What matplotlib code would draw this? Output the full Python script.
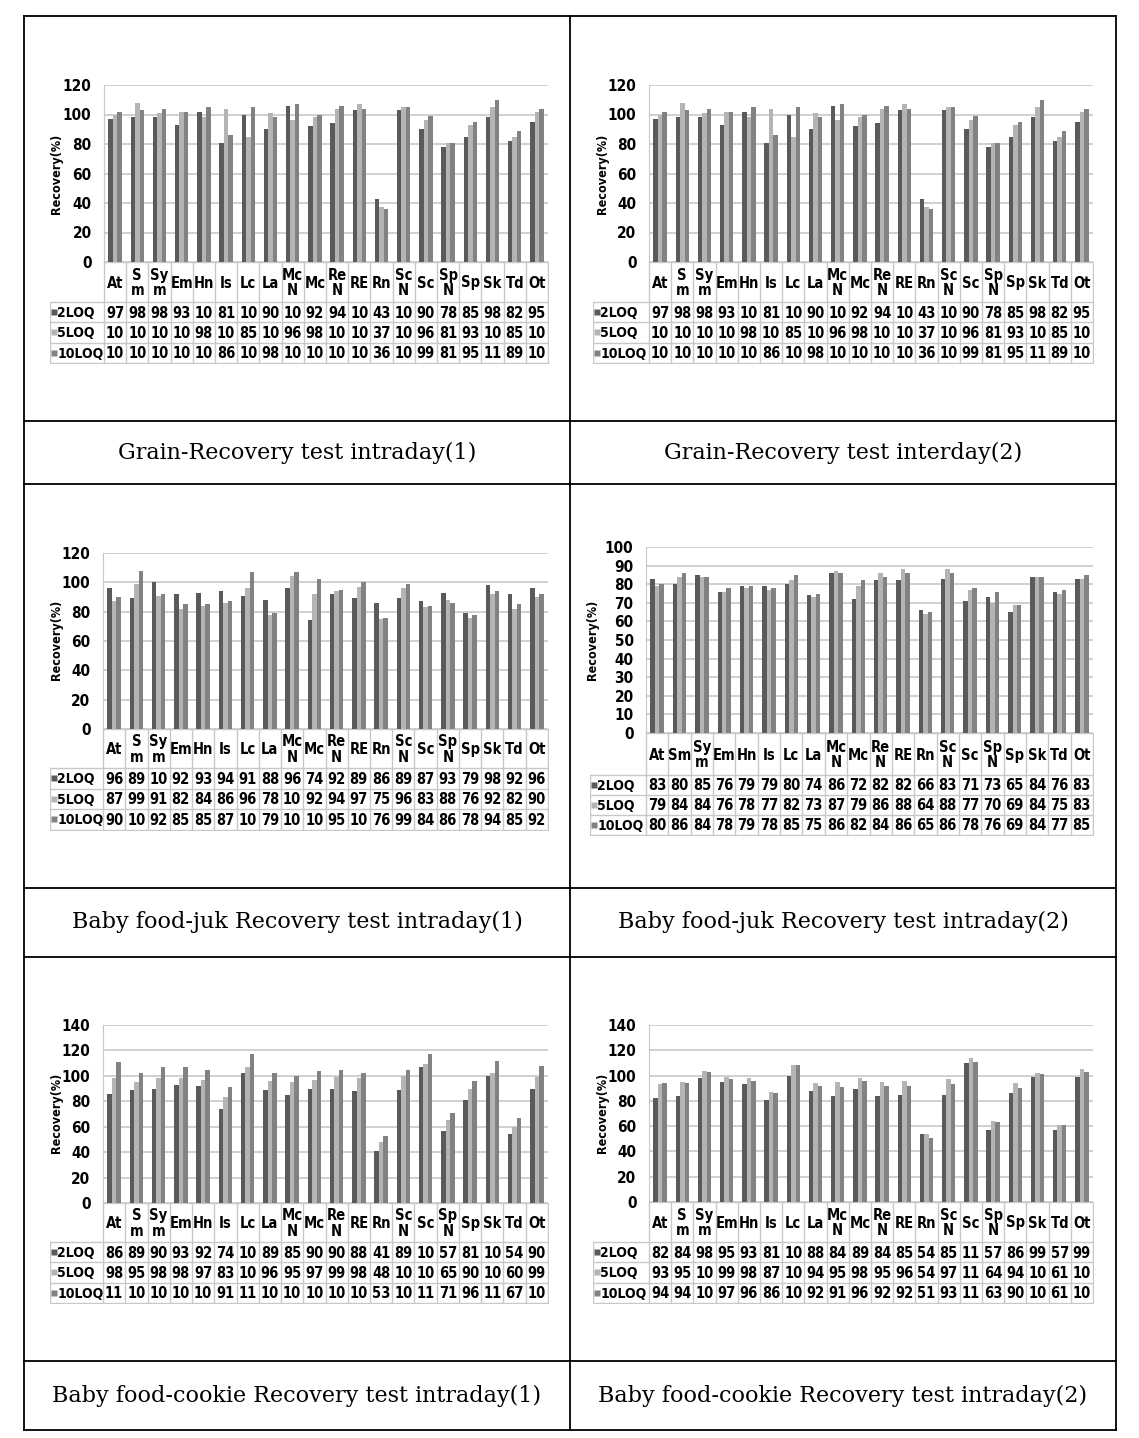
import matplotlib
matplotlib.use('Agg')
import matplotlib.pyplot as plt
from matplotlib.lines import Line2D

W, H = 1139, 1438

# ---- data -------------------------------------------------------------
series = ['2LOQ', '5LOQ', '10LOQ']
bar_colors = ['#5a5a5a', '#b4b4b4', '#828282']

cats = ['At', 'S\nm', 'Sy\nm', 'Em', 'Hn', 'Is', 'Lc', 'La', 'Mc\nN', 'Mc',
        'Re\nN', 'RE', 'Rn', 'Sc\nN', 'Sc', 'Sp\nN', 'Sp', 'Sk', 'Td', 'Ot']
cats_juk2 = ['At', 'Sm', 'Sy\nm', 'Em', 'Hn', 'Is', 'Lc', 'La', 'Mc\nN', 'Mc',
             'Re\nN', 'RE', 'Rn', 'Sc\nN', 'Sc', 'Sp\nN', 'Sp', 'Sk', 'Td', 'Ot']

grain1_2loq = [97, 98, 98, 93, 102, 81, 100, 90, 106, 92, 94, 103, 43, 103, 90, 78, 85, 98, 82, 95]
grain1_5loq = [100, 108, 101, 102, 98, 104, 85, 101, 96, 98, 104, 107, 37, 105, 96, 81, 93, 105, 85, 102]
grain1_10loq = [102, 103, 104, 102, 105, 86, 105, 98, 107, 100, 106, 104, 36, 105, 99, 81, 95, 110, 89, 104]

grain2_2loq = [97, 98, 98, 93, 102, 81, 100, 90, 106, 92, 94, 103, 43, 103, 90, 78, 85, 98, 82, 95]
grain2_5loq = [100, 108, 101, 102, 98, 104, 85, 101, 96, 98, 104, 107, 37, 105, 96, 81, 93, 105, 85, 102]
grain2_10loq = [102, 103, 104, 102, 105, 86, 105, 98, 107, 100, 106, 104, 36, 105, 99, 81, 95, 110, 89, 104]

juk1_2loq = [96, 89, 100, 92, 93, 94, 91, 88, 96, 74, 92, 89, 86, 89, 87, 93, 79, 98, 92, 96]
juk1_5loq = [87, 99, 91, 82, 84, 86, 96, 78, 104, 92, 94, 97, 75, 96, 83, 88, 76, 92, 82, 90]
juk1_10loq = [90, 108, 92, 85, 85, 87, 107, 79, 107, 102, 95, 100, 76, 99, 84, 86, 78, 94, 85, 92]

juk2_2loq = [83, 80, 85, 76, 79, 79, 80, 74, 86, 72, 82, 82, 66, 83, 71, 73, 65, 84, 76, 83]
juk2_5loq = [79, 84, 84, 76, 78, 77, 82, 73, 87, 79, 86, 88, 64, 88, 77, 70, 69, 84, 75, 83]
juk2_10loq = [80, 86, 84, 78, 79, 78, 85, 75, 86, 82, 84, 86, 65, 86, 78, 76, 69, 84, 77, 85]

cookie1_2loq = [86, 89, 90, 93, 92, 74, 102, 89, 85, 90, 90, 88, 41, 89, 107, 57, 81, 100, 54, 90]
cookie1_5loq = [98, 95, 98, 98, 97, 83, 107, 96, 95, 97, 99, 98, 48, 100, 109, 65, 90, 102, 60, 99]
cookie1_10loq = [111, 102, 107, 107, 105, 91, 117, 102, 100, 104, 105, 102, 53, 105, 117, 71, 96, 112, 67, 108]

cookie2_2loq = [82, 84, 98, 95, 93, 81, 100, 88, 84, 89, 84, 85, 54, 85, 110, 57, 86, 99, 57, 99]
cookie2_5loq = [93, 95, 104, 99, 98, 87, 108, 94, 95, 98, 95, 96, 54, 97, 114, 64, 94, 102, 61, 105]
cookie2_10loq = [94, 94, 103, 97, 96, 86, 108, 92, 91, 96, 92, 92, 51, 93, 111, 63, 90, 101, 61, 103]

captions = ['Grain-Recovery test intraday(1)', 'Grain-Recovery test interday(2)',
            'Baby food-juk Recovery test intraday(1)', 'Baby food-juk Recovery test intraday(2)',
            'Baby food-cookie Recovery test intraday(1)', 'Baby food-cookie Recovery test intraday(2)']

# ---- layout (pixels) --------------------------------------------------
fig = plt.figure(figsize=(W / 100, H / 100), dpi=100)
fig.patch.set_facecolor('white')

FONT = dict(family='DejaVu Sans', fontstretch='condensed', fontweight='bold')
GRID = '#c8c8c8'


def px_axes(x0, y0, x1, y1):
    return fig.add_axes([x0 / W, 1 - y1 / H, (x1 - x0) / W, (y1 - y0) / H])


def draw_panel(labels, vals, ymax, ystep, plot_box, leg_x, cat_h, row_h, ylab_xy):
    x0, y0, x1, y1 = plot_box
    ax = px_axes(x0, y0, x1, y1)
    n = len(labels)
    w = 0.2
    for k, v in enumerate(vals):
        ax.bar([i + (k - 1) * w for i in range(n)], v, width=w,
               color=bar_colors[k], zorder=3)
    ax.set_xlim(-0.5, n - 0.5)
    ax.set_ylim(0, ymax)
    ax.set_yticks(range(0, ymax + 1, ystep))
    ax.yaxis.grid(True, color=GRID, lw=1.2, zorder=0)
    ax.set_xticks([])
    for s in ['top', 'right', 'bottom']:
        ax.spines[s].set_visible(False)
    ax.spines['left'].set_color(GRID)
    ax.tick_params(axis='y', length=0, pad=9, labelsize=11)
    for t in ax.get_yticklabels():
        t.set_fontweight('bold')
        t.set_fontstretch('condensed')
    ax.set_facecolor('none')
    fig.text(ylab_xy[0] / W, 1 - ylab_xy[1] / H, 'Recovery(%)', rotation=90,
             ha='center', va='center', fontsize=9, **FONT)

    # data table under the chart
    cw = (x1 - x0) / n
    th = cat_h + 3 * row_h
    tx = px_axes(leg_x, y1, x1 + 1, y1 + th + 1)
    left = -0.5 - (x0 - leg_x) / cw
    tx.set_xlim(left, n - 0.5 + 1 / cw)
    tx.set_ylim(th + 1, 0)
    tx.axis('off')
    lc = GRID
    tx.plot([-0.5, n - 0.5], [0, 0], color=lc, lw=1)
    for r in range(4):
        yy = cat_h + r * row_h
        tx.plot([left, n - 0.5], [yy, yy], color=lc, lw=1)
    tx.plot([left, left], [cat_h, th], color=lc, lw=1)
    for i in range(n + 1):
        tx.plot([i - 0.5, i - 0.5], [0, th], color=lc, lw=1)
    for i, lab in enumerate(labels):
        tx.text(i, cat_h / 2 + 1, lab, ha='center', va='center', fontsize=10.5,
                linespacing=1.05, **FONT)
    for k, v in enumerate(vals):
        yc = cat_h + (k + 0.5) * row_h + 1
        tx.plot(left + 0.18, yc - 1, marker='s', ms=4.5, color=bar_colors[k],
                mec='none')
        tx.text(left + 0.33, yc, series[k], ha='left', va='center',
                fontsize=10, **FONT)
        for i, val in enumerate(v):
            tx.text(i, yc, str(val)[:2], ha='center', va='center',
                    fontsize=10.5, **FONT)


draw_panel(cats, [grain1_2loq, grain1_5loq, grain1_10loq], 120, 20,
           (104, 85, 548, 262), 50, 40, 20.3, (57, 174))
draw_panel(cats, [grain2_2loq, grain2_5loq, grain2_10loq], 120, 20,
           (649, 85, 1093, 262), 593, 40, 20.3, (602, 174))
draw_panel(cats, [juk1_2loq, juk1_5loq, juk1_10loq], 120, 20,
           (103, 553, 548, 729), 50, 39, 20.5, (57, 640))
draw_panel(cats_juk2, [juk2_2loq, juk2_5loq, juk2_10loq], 100, 10,
           (646, 547, 1093, 733), 590, 42, 20, (592, 640))
draw_panel(cats, [cookie1_2loq, cookie1_5loq, cookie1_10loq], 140, 20,
           (103, 1025, 548, 1203), 50, 39, 20.3, (57, 1113))
draw_panel(cats, [cookie2_2loq, cookie2_5loq, cookie2_10loq], 140, 20,
           (649, 1025, 1093, 1202), 593, 40, 20.3, (602, 1113))

# ---- outer frame and captions ----------------------------------------
frame_y = [16, 421, 484, 888, 957, 1361, 1430]
for yy in frame_y:
    fig.add_artist(Line2D([24 / W, 1116 / W], [1 - yy / H, 1 - yy / H],
                          color='black', lw=1.3))
for xx in [24, 570, 1116]:
    fig.add_artist(Line2D([xx / W, xx / W], [1 - 16 / H, 1 - 1430 / H],
                          color='black', lw=1.3))

cap_y = [453, 922, 1396]
cap_x = [297, 843]
for j, cap in enumerate(captions):
    fig.text(cap_x[j % 2] / W, 1 - cap_y[j // 2] / H, cap, ha='center',
             va='center', fontsize=16, family='DejaVu Serif')

fig.savefig('out.png', dpi=100, facecolor='white')
